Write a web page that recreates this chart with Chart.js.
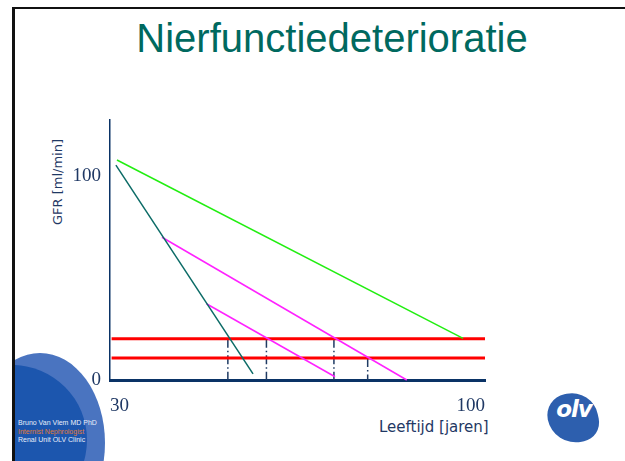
<!DOCTYPE html>
<html>
<head>
<meta charset="utf-8">
<script src="https://cdn.jsdelivr.net/npm/chart.js@4"></script>
<style>
  body { margin: 0; background: #fff; }
  #page { position: relative; width: 625px; height: 461px; overflow: hidden; background: #fff; }
  #frame { position: absolute; left: 12px; top: 7px; width: 610px; height: 470px;
           border: 2px solid #111; border-left-width: 3px; }
  #title { position: absolute; left: 0; width: 664px; top: 16px; text-align: center;
           font: 40px "Liberation Sans", Arial, sans-serif; color: #00695f; }
  #ytitle { position: absolute; left: 57px; top: 182px; transform: translate(-50%, -50%) rotate(-90deg);
            font: 13px "DejaVu Sans", sans-serif; color: #1f3864; white-space: nowrap; }
  #xtitle { position: absolute; left: 379px; top: 418px;
            font: 15px "DejaVu Sans", sans-serif; color: #1f3864; white-space: nowrap; }
  #blobclip { position: absolute; left: 15px; top: 340px; width: 100px; height: 121px; overflow: hidden; }
  #blob { position: absolute; left: -40px; top: 13px; width: 130px; height: 180px;
          border-radius: 50%; background: #4a74c0; }
  #blob2 { position: absolute; left: -78px; top: 25px; width: 150px; height: 150px;
           border-radius: 50%; background: #1c56ae; }
  #footer { position: absolute; left: 18px; top: 419px; font: 7px "Liberation Sans", Arial, sans-serif;
            line-height: 8.5px; color: #e8eefa; }
  #footer .o { color: #e07a35; }
  #logo { position: absolute; left: 548px; top: 393px; width: 50px; height: 50px;
          border-radius: 45% 55% 40% 60%; background: #2d5fae; transform: rotate(-12deg); }
  #logotext { position: absolute; left: 552px; top: 396px; width: 44px; text-align: center;
              font: italic bold 23px "DejaVu Sans", sans-serif; color: #fff; letter-spacing: -1px; }
  #chart { position: absolute; left: 0; top: 0; }
</style>
</head>
<body>
<div id="page">
  <div id="frame"></div>
  <div id="title">Nierfunctiedeterioratie</div>
  <div id="blobclip"><div id="blob"></div><div id="blob2"></div></div>
  <div id="footer">Bruno Van Vlem MD PhD<br><span class="o">Internist Nephrologist</span><br>Renal Unit OLV Clinic</div>
  <div id="logo"></div>
  <div id="logotext">olv</div>
  <div id="ytitle">GFR [ml/min]</div>
  <div id="xtitle">Leeftijd [jaren]</div>
  <canvas id="chart" width="625" height="461"></canvas>
</div>
<script>
const ctx = document.getElementById("chart").getContext("2d");

// axis ranges and tick labels
const ageRange = [30, 100];
const gfrRange = [0, 127.5];
const ageTicks = [30, 100];
const gfrTicks = [0, 100];

// decline lines (age, GFR)
const greenAge = [31.3, 95.9];
const greenGfr = [107.9, 20.4];
const tealAge = [31.1, 56.7];
const tealGfr = [105.4, 3.0];
const magentaAAge = [39.7, 85.4];
const magentaAGfr = [70.0, 0];
const magentaBAge = [48.0, 72.0];
const magentaBGfr = [37.4, 1.6];

// threshold levels
const thresholdAge = [30.3, 100];
const upperLevel = 20.2;
const lowerLevel = 10.8;

// dash-dot markers where lines cross the thresholds
const markerAge = [52.0, 59.2, 71.8, 78.1];
const markerTop = [20.2, 20.2, 20.2, 10.8];

const pts = (xs, ys) => xs.map((x, i) => ({ x: x, y: ys[i] }));
const line = (data, color, width) => ({
  data: data, borderColor: color, borderWidth: width,
  showLine: true, pointRadius: 0, fill: false, clip: false,
});

const datasets = [
  line(pts(greenAge, greenGfr), "#22ee11", 1.5),
  line(pts(tealAge, tealGfr), "#0b6b66", 1.5),
  line(pts(magentaAAge, magentaAGfr), "#ff22ff", 1.5),
  line(pts(magentaBAge, magentaBGfr), "#ff22ff", 1.5),
  line(pts(thresholdAge, [upperLevel, upperLevel]), "#ff0000", 3),
  line(pts(thresholdAge, [lowerLevel, lowerLevel]), "#ff0000", 3),
];
markerAge.forEach((a, i) => {
  const d = line(pts([a, a], [markerTop[i], 0]), "#1f3b64", 1.5);
  d.borderDash = [9, 3, 1.5, 3];
  datasets.push(d);
});

const tickFont = { family: "'Liberation Serif', 'DejaVu Serif', serif", size: 19 };

const config = {
  type: "scatter",
  data: { datasets },
  options: {
    responsive: false,
    animation: false,
    layout: { padding: { left: 50, right: 140, top: 120, bottom: 41 } },
    plugins: { legend: { display: false }, tooltip: { enabled: false } },
    scales: {
      x: {
        type: "linear",
        min: ageRange[0],
        max: ageRange[1],
        afterBuildTicks: (s) => { s.ticks = ageTicks.map((v) => ({ value: v })); },
        afterFit: (s) => { s.height = 40; },
        grid: { display: false, drawTicks: false },
        border: { display: true, color: "#0a3366", width: 3 },
        ticks: { font: tickFont, color: "#1f3864", padding: 15, align: "inner", maxRotation: 0 },
      },
      y: {
        min: gfrRange[0],
        max: gfrRange[1],
        afterBuildTicks: (s) => { s.ticks = gfrTicks.map((v) => ({ value: v })); },
        afterFit: (s) => { s.width = 60; },
        grid: { display: false, drawTicks: false },
        border: { display: true, color: "#0a3366", width: 1.5 },
        ticks: { font: tickFont, color: "#1f3864", padding: 9 },
      },
    },
  },
};

const myChart = new Chart(ctx, config);
</script>
</body>
</html>
